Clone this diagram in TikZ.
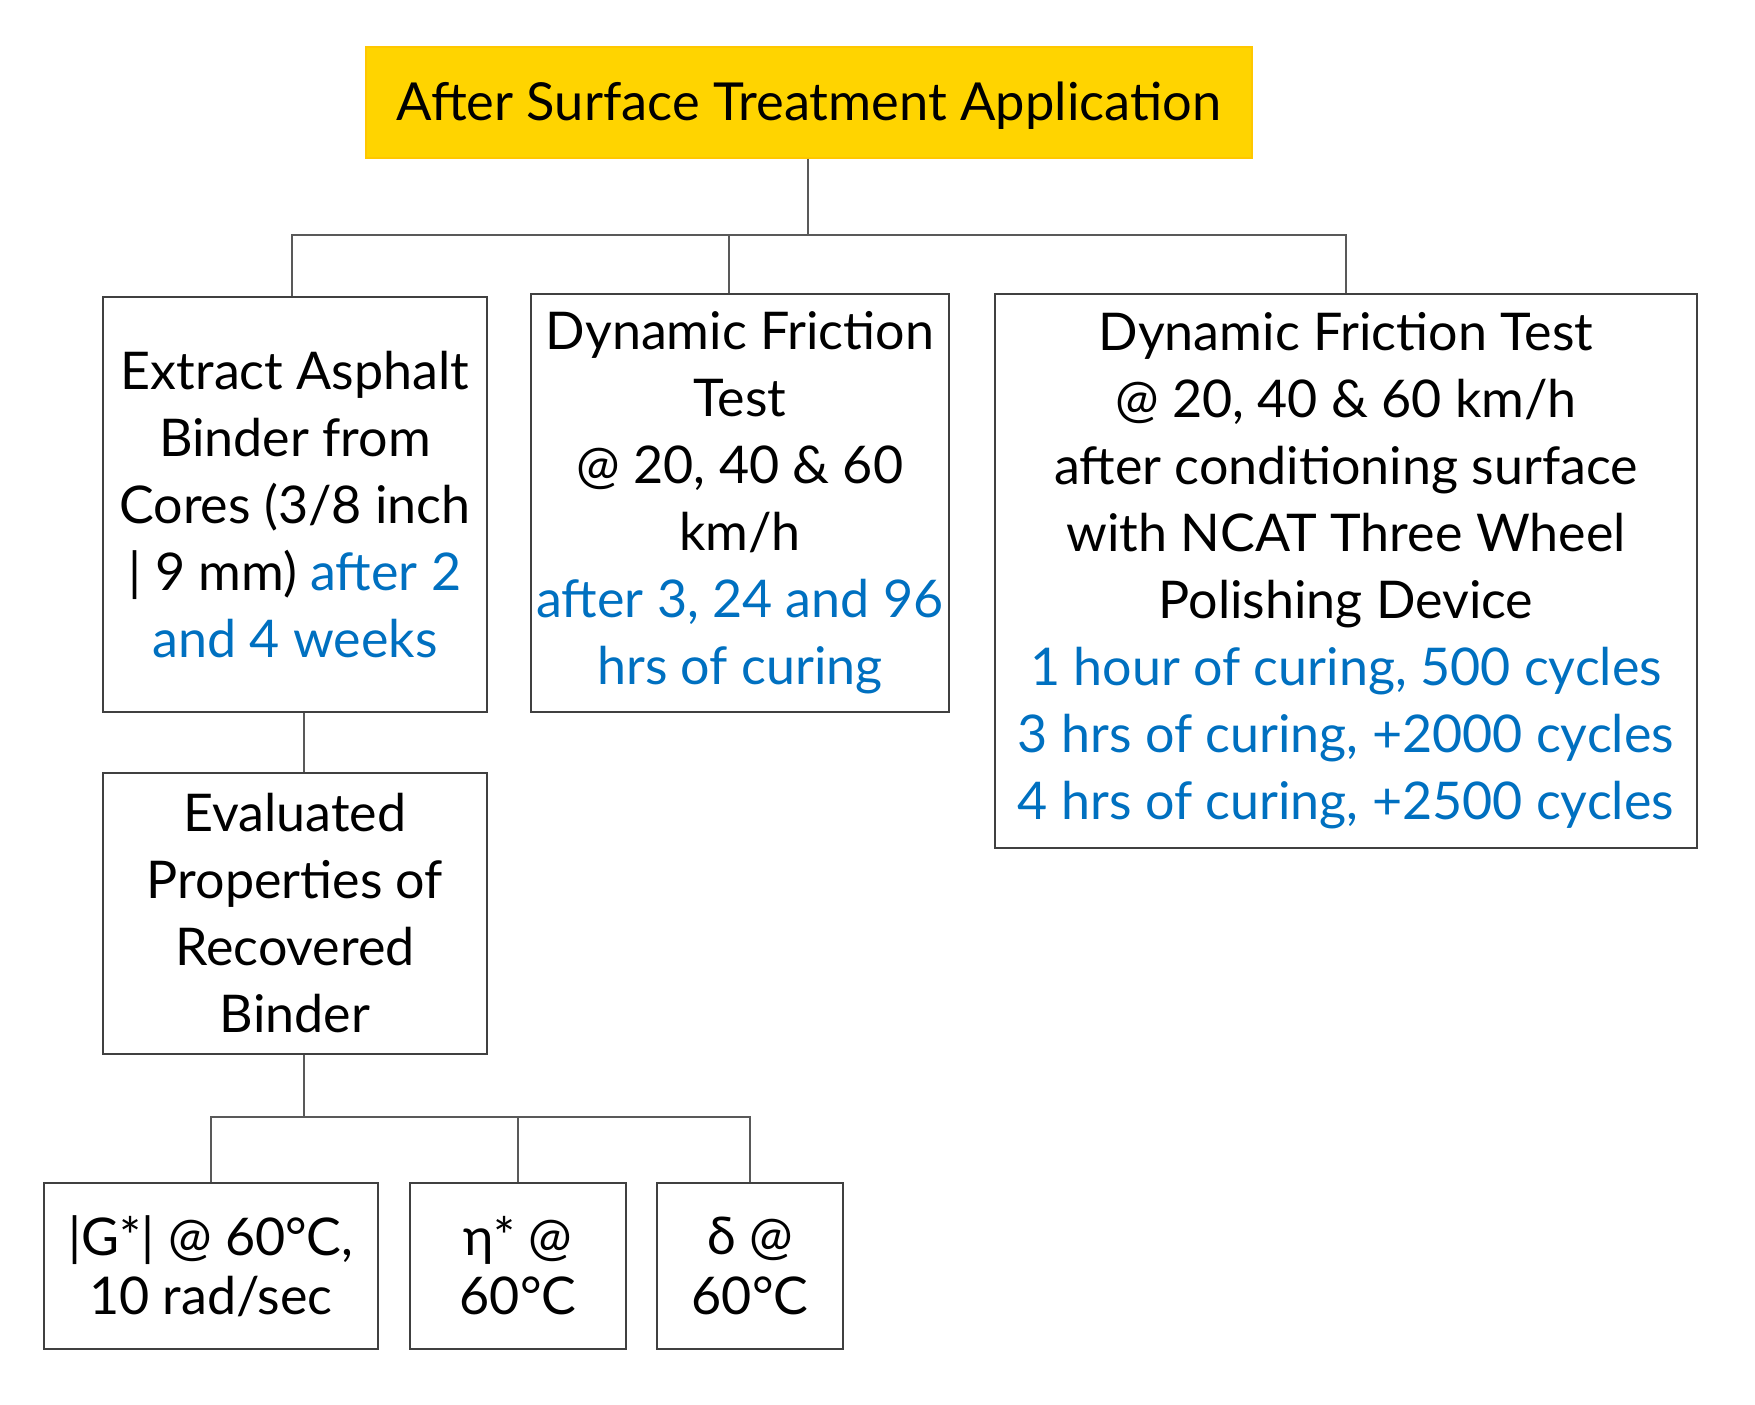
\documentclass[tikz,border=0pt]{standalone}
\usepackage{fontspec}
\setmainfont{Lato}
\usepackage{xcolor}
\usetikzlibrary{positioning,calc}
\definecolor{titlegold}{RGB}{255,212,0}
\definecolor{curblue}{RGB}{0,112,192}
\newcommand{\cur}[1]{\textcolor{curblue}{#1}}
\tikzset{
  head/.style  ={rectangle, fill=titlegold, draw=titlegold!85!orange, line width=0.3pt,
                 inner sep=0pt, minimum width=221.5pt, minimum height=27.75pt,
                 text depth=0.5pt, font=\fontsize{13.1}{16.75}\selectfont},
  stage/.style ={rectangle, draw=black!75, line width=0.35pt, inner sep=0pt,
                 align=center, font=\fontsize{13}{16.75}\selectfont},
  leaf/.style  ={rectangle, draw=black!75, line width=0.35pt, inner sep=0pt,
                 align=center, minimum height=41.5pt,
                 font=\fontsize{13}{14.8}\selectfont},
  link/.style  ={draw=black!65, line width=0.35pt},
}
\begin{document}
\begin{tikzpicture}[x=0.25pt,y=-0.25pt]
\useasboundingbox (0,0) rectangle (1755,1404);
% ---- top of the tree -------------------------------------------------
\node[head] (top) at (809,102.5) {After Surface Treatment Application};

% ---- second level ----------------------------------------------------
\node[stage, minimum width=96pt, minimum height=103.75pt] (ext) at (295,504.5)
  {Extract Asphalt\\Binder from\\Cores (3/8 inch\\| 9 mm) \cur{after 2}\\\cur{and 4 weeks}};
\node[stage, minimum width=104.5pt, minimum height=104.5pt] (dft) at (740,503)
  {Dynamic Friction\\Test\\@ 20, 40 \& 60\\km/h\\\cur{after 3, 24 and 96}\\\cur{hrs of curing}};
\node[stage, minimum width=175.5pt, minimum height=138.5pt] (pol) at (1346,571)
  {Dynamic Friction Test\\@ 20, 40 \& 60 km/h\\after conditioning surface\\with NCAT Three Wheel\\Polishing Device\\
   \cur{1 hour of curing, 500 cycles}\\\cur{3 hrs of curing, +2000 cycles}\\\cur{4 hrs of curing, +2500 cycles}};

% ---- binder branch ---------------------------------------------------
\node[stage, minimum width=96pt, minimum height=70.25pt] (prop) at (295,913.5)
  {Evaluated\\Properties of\\Recovered\\Binder};
\node[leaf, minimum width=83.5pt] (gst) at (211,1266) {|G*| @ 60°C,\\10 rad/sec};
\node[leaf, minimum width=54pt]   (eta) at (518,1266) {η* @\\60°C};
\node[leaf, minimum width=46.5pt] (dlt) at (750,1266) {δ @\\60°C};

% ---- connectors ------------------------------------------------------
\coordinate (j1) at (808,235);
\coordinate (j2) at (304,1117);
\draw[link] (top.south -| j1) -- (j1);
\draw[link] (j1) -| ([xshift=-0.75pt]ext.north);
\draw[link] (j1) -| ([xshift=-2.75pt]dft.north);
\draw[link] (j1) -| (pol.north);
\draw[link] (ext.south -| j2) -- (prop.north -| j2);
\draw[link] (prop.south -| j2) -- (j2);
\draw[link] (j2) -| (gst.north);
\draw[link] (j2) -| (eta.north);
\draw[link] (j2) -| (dlt.north);
\end{tikzpicture}
\end{document}
